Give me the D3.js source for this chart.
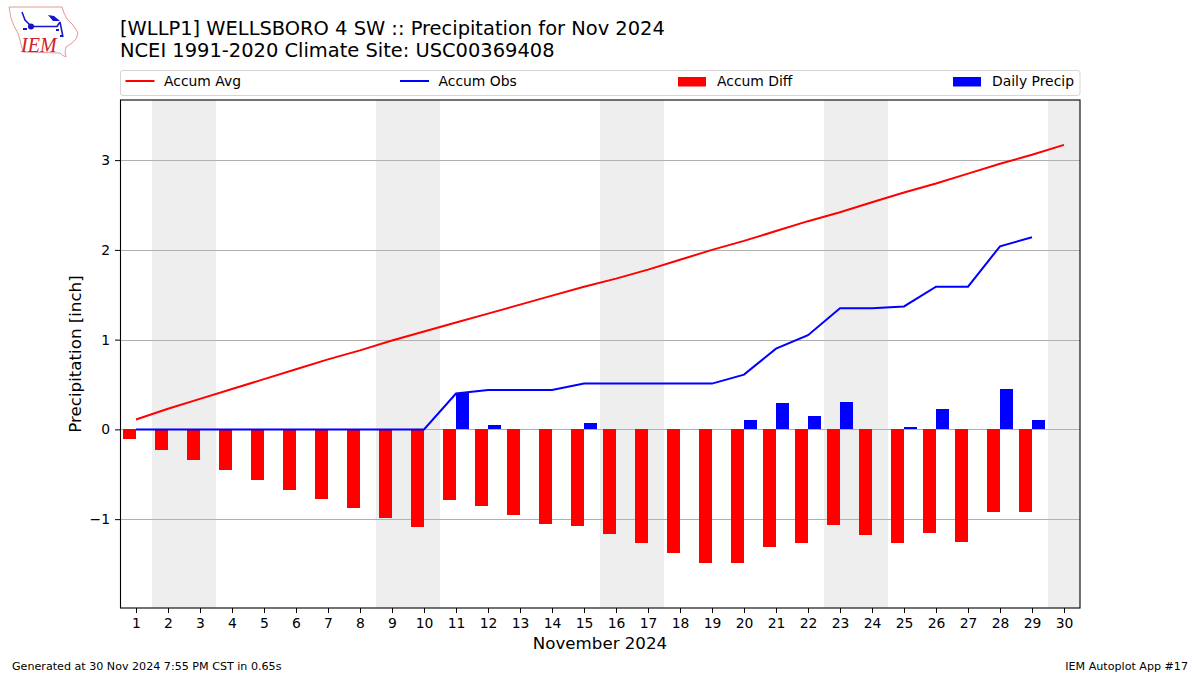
<!DOCTYPE html>
<html><head><meta charset="utf-8">
<script src="https://cdn.jsdelivr.net/npm/d3@7"></script>
<style>html,body{margin:0;padding:0;background:#fff}svg{display:block}text{font-family:"DejaVu Sans";fill:#000}</style>
</head><body><svg id="c" width="1200" height="675"></svg>
<script>
const days = d3.range(1, 31);
const accumAvg = [0.11,0.23,0.34,0.45,0.56,0.67,0.78,0.88,0.99,1.09,1.19,1.29,1.39,1.49,1.59,1.68,1.78,1.89,2.00,2.10,2.21,2.32,2.42,2.53,2.64,2.74,2.85,2.96,3.06,3.17];
const accumObs = [0,0,0,0,0,0,0,0,0,0,0.40,0.44,0.44,0.44,0.51,0.51,0.51,0.51,0.51,0.61,0.90,1.05,1.35,1.35,1.37,1.59,1.59,2.04,2.14];
const accumDiff = [-0.11,-0.23,-0.34,-0.45,-0.56,-0.67,-0.78,-0.88,-0.99,-1.09,-0.79,-0.85,-0.95,-1.05,-1.08,-1.17,-1.27,-1.38,-1.49,-1.49,-1.31,-1.27,-1.07,-1.18,-1.27,-1.15,-1.26,-0.92,-0.92];
const dailyPrecip = [0,0,0,0,0,0,0,0,0,0,0.41,0.05,0,0,0.07,0,0,0,0,0.10,0.29,0.15,0.30,0,0.03,0.23,0,0.45,0.10];
const weekendBands = [[1.5,3.5],[8.5,10.5],[15.5,17.5],[22.5,24.5],[29.5,30.5]];
const yTicks = [-1,0,1,2,3];
const titleLines = ["[WLLP1] WELLSBORO 4 SW :: Precipitation for Nov 2024","NCEI 1991-2020 Climate Site: USC00369408"];
const legendItems = [["Accum Avg","line","#f00"],["Accum Obs","line","#00f"],["Accum Diff","bar","#f00"],["Daily Precip","bar","#00f"]];
const legendPos = [125.5,400,678,953];

const L=120,R=1080,T=100,B=608;
const svg=d3.select("#c");
const x=d3.scaleLinear().domain([0.5,30.5]).range([L,R]);
const y=d3.scaleLinear().domain([-1.99,3.67]).range([B,T]);
const defs=svg.append("defs");
defs.append("clipPath").attr("id","plot").append("rect").attr("x",L).attr("y",T).attr("width",R-L).attr("height",B-T);
const g=svg.append("g").attr("clip-path","url(#plot)");
g.selectAll(".band").data(weekendBands).join("rect").attr("x",d=>x(d[0])).attr("width",d=>x(d[1])-x(d[0])).attr("y",T).attr("height",B-T).attr("fill","#eeeeee");
g.selectAll(".grid").data(yTicks).join("line").attr("x1",L).attr("x2",R).attr("y1",d=>Math.round(y(d))+.5).attr("y2",d=>Math.round(y(d))+.5).attr("stroke","#b0b0b0").attr("stroke-width",1);
const w=Math.round(x(1.4)-x(1));
const zero=Math.round(y(0));
g.selectAll(".diff").data(accumDiff).join("rect").attr("x",(d,i)=>x(days[i])-w).attr("width",w).attr("y",zero).attr("height",d=>Math.round(y(d))-zero).attr("fill","#f00");
g.selectAll(".daily").data(dailyPrecip).join("rect").attr("x",(d,i)=>x(days[i])).attr("width",w).attr("y",d=>Math.round(y(d))).attr("height",d=>zero-Math.round(y(d))).attr("fill","#00f");
const line=d3.line().x((d,i)=>x(days[i])).y(d=>y(d));
g.append("path").attr("d",line(accumAvg)).attr("fill","none").attr("stroke","#f00").attr("stroke-width",2);
g.append("path").attr("d",line(accumObs)).attr("fill","none").attr("stroke","#00f").attr("stroke-width",2);
svg.append("rect").attr("x",L+.5).attr("y",T).attr("width",R-L-.5).attr("height",B-T).attr("fill","none").attr("stroke","#000").attr("stroke-width",1.1);
const xa=svg.append("g").attr("transform",`translate(0,${B})`).call(d3.axisBottom(x).tickValues(days).tickFormat(d3.format("d")).tickSize(5).tickPadding(5));
const ya=svg.append("g").attr("transform",`translate(${L},0)`).call(d3.axisLeft(y).tickValues(yTicks).tickFormat(d=>d<0?"\u2212"+(-d):d).tickSize(5).tickPadding(5));
[xa,ya].forEach(a=>{a.select(".domain").remove();a.selectAll("text").attr("font-size",13.9).attr("font-family","DejaVu Sans").attr("fill","#000");a.selectAll("line").attr("stroke","#000");});
svg.append("text").attr("x",600).attr("y",649).attr("text-anchor","middle").attr("font-size",16.67).text("November 2024");
svg.append("text").attr("transform","translate(81,354) rotate(-90)").attr("text-anchor","middle").attr("font-size",16.67).text("Precipitation [inch]");
titleLines.forEach((t,i)=>svg.append("text").attr("x",120).attr("y",35+i*22).attr("font-size",19.44).text(t));
svg.append("text").attr("x",12).attr("y",670).attr("font-size",11.11).text("Generated at 30 Nov 2024 7:55 PM CST in 0.65s");
svg.append("text").attr("x",1188).attr("y",670).attr("text-anchor","end").attr("font-size",11.11).text("IEM Autoplot App #17");
// legend
svg.append("rect").attr("x",L+.5).attr("y",70.5).attr("width",R-L-.5).attr("height",25).attr("rx",2.5).attr("fill","#fff").attr("stroke","#d5d5d5");
legendItems.forEach((it,i)=>{
  const px=legendPos[i];
  if(it[1]==="line") svg.append("line").attr("x1",px).attr("x2",px+29).attr("y1",81).attr("y2",81).attr("stroke",it[2]).attr("stroke-width",2);
  else svg.append("rect").attr("x",px).attr("y",77).attr("width",28).attr("height",9.5).attr("fill",it[2]);
  svg.append("text").attr("x",px+(it[1]==="line"?38.5:39)).attr("y",86).attr("font-size",13.9).text(it[0]);
});
// logo
const logo=svg.append("g");
logo.append("path").attr("d","M9,7 L62,7 L64,13 L67,19 L73,25 L78,33 L76,39 L72,43 L66,47 L65,52 L66,57 L62,55 L60,53 L23,52 L21,44 L18,33 L14,26 L11,18 Z").attr("fill","#fff").attr("stroke","#e59a9a").attr("stroke-width",1);
logo.append("text").attr("x",21).attr("y",52).attr("font-size",20).style("font-family","Liberation Serif").style("font-style","italic").style("fill","#d02028").text("IEM");
logo.append("path").attr("d","M31,26.5 L57,26.5 L60,22 M60,22 L63,37 M22,12 L25,20 L31,26").attr("stroke","#1414c8").attr("stroke-width",1.5).attr("fill","none");
logo.append("circle").attr("cx",31).attr("cy",26.5).attr("r",3).attr("fill","#1414c8");
logo.append("path").attr("d","M48,15 L54,16 L60,21 L53,21 Z").attr("fill","#1414c8");
logo.append("path").attr("d","M23,29 h4 M56,30 h3 M60,36 h3").attr("stroke","#1414c8").attr("stroke-width",2).attr("fill","none");
</script></body></html>
